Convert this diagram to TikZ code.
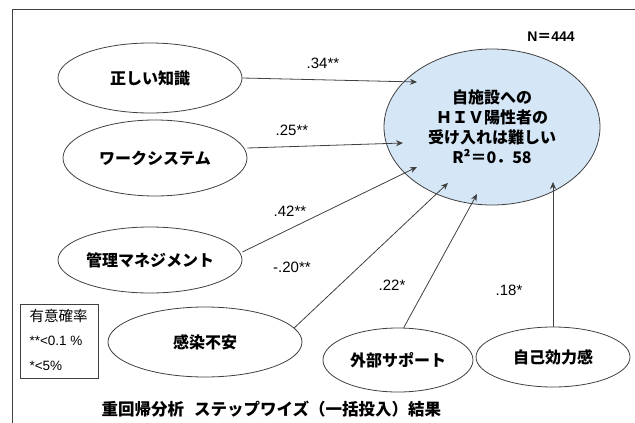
\documentclass[tikz,border=0pt]{standalone}
\usepackage{fontspec}
\setmainfont{Liberation Sans}
\newfontfamily\jp{Noto Sans CJK JP}
\usetikzlibrary{shapes.geometric,arrows.meta}
\definecolor{lineg}{HTML}{404040}
\definecolor{fillb}{HTML}{D5E7F7}
\begin{document}
\begin{tikzpicture}[x=1pt,y=-1pt,
  oval/.style={ellipse,draw=lineg,line width=0.8pt,inner sep=0pt,font=\jp\bfseries\fontsize{16}{20}\selectfont},
  conn/.style={draw=lineg,line width=0.8pt,-{Stealth[length=7pt,width=6pt]}},
  coef/.style={font=\fontsize{15}{17}\selectfont}]
\useasboundingbox (0,0) rectangle (635,423);
\draw[lineg,line width=0.8pt] (635,9) -- (12.5,9) -- (12.5,423);
% main
\node[oval,fill=fillb,minimum width=216pt,minimum height=156pt,align=center] (main) at (492,127)
  {自施設への\\ＨＩＶ陽性者の\\受け入れは難しい\\R²＝0．58};
\node[font=\bfseries\fontsize{14}{16}\selectfont] (n) at (551,37) {N{\jp ＝}444};
% predictors
\node[oval,minimum width=184pt,minimum height=70pt] (a) at (150,78) {正しい知識};
\node[oval,minimum width=184pt,minimum height=76pt] (b) at (155,158) {ワークシステム};
\node[oval,minimum width=184pt,minimum height=66pt] (c) at (150,260) {管理マネジメント};
\node[oval,minimum width=194pt,minimum height=70pt] (d) at (205,342) {感染不安};
\node[oval,minimum width=150pt,minimum height=64pt] (e) at (398,360) {外部サポート};
\node[oval,minimum width=154pt,minimum height=60pt] (f) at (553,357) {自己効力感};
% arrow targets
\coordinate (ta) at (417,82);
\coordinate (tb) at (403,143);
\coordinate (tc) at (417,167);
\coordinate (td) at (448,183);
\coordinate (te) at (477,194);
\coordinate (tf) at (553,182);
\draw[conn] (a.east) -- (ta);
\draw[conn] (b.east) ++(0,-10) -- (tb);
\draw[conn] (c.east) ++(0,-8) -- (tc);
\draw[conn] (d.9) -- (td);
\draw[conn] (e.80) -- (te);
\draw[conn] (f.north) -- (tf);
% coefficients
\node[coef] (la) at (323,63) {.34**};
\node[coef] (lb) at (292,130) {.25**};
\node[coef] (lc) at (290,211) {.42**};
\node[coef] (ld) at (292,267) {-.20**};
\node[coef] (le) at (392,285) {.22*};
\node[coef] (lf) at (509,290) {.18*};
% legend
\node[draw=lineg,line width=0.8pt,minimum width=78pt,minimum height=74pt] (leg) at (59,341) {};
\node[anchor=west,font=\jp\fontsize{14.5}{16}\selectfont] (l1) at (26,316) {有意確率};
\node[anchor=west,font=\fontsize{13.5}{15}\selectfont] (l2) at (26,341) {**<0.1 \%};
\node[anchor=west,font=\fontsize{13.5}{15}\selectfont] (l3) at (26,366) {*<5\%};
% caption
\node[anchor=west,font=\jp\bfseries\fontsize{16.5}{20}\selectfont] (cap) at (98,409) {重回帰分析\hspace{10pt}ステップワイズ（一括投入）結果};
\end{tikzpicture}
\end{document}
